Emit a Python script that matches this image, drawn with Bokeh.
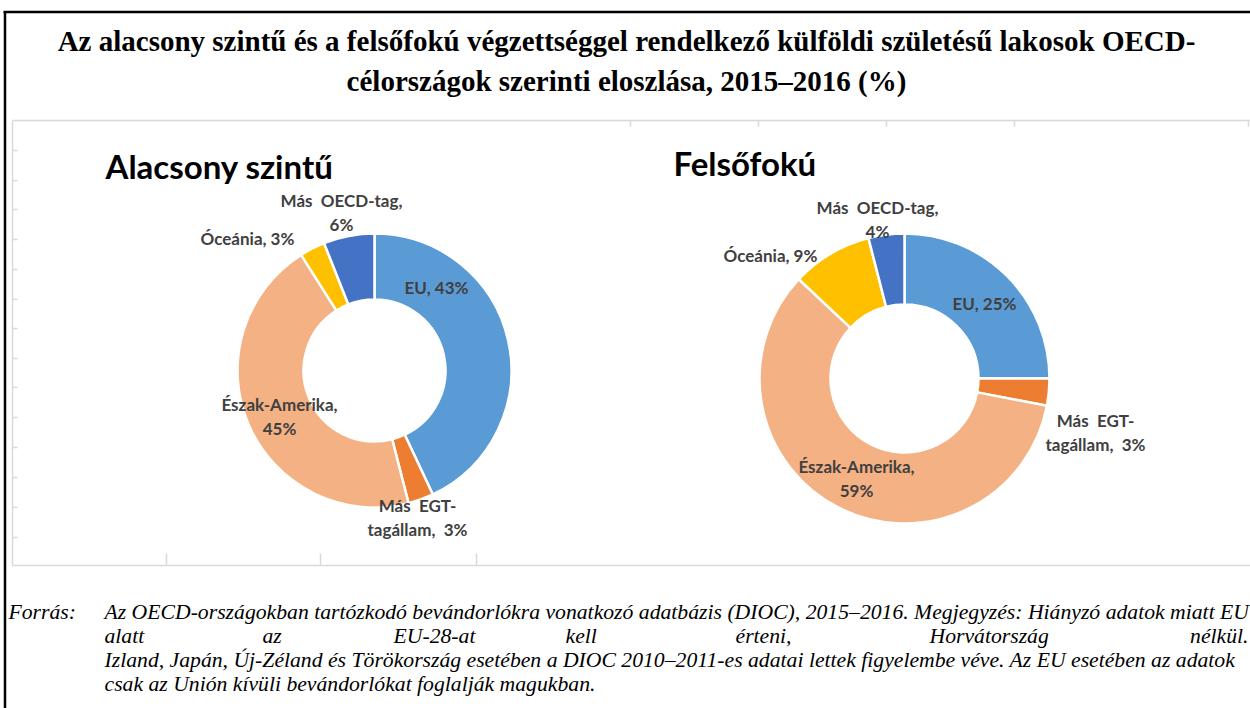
import numpy as np
from bokeh.plotting import figure
from bokeh.models import Range1d
from bokeh.core.properties import value
from bokeh.embed import file_html
from bokeh.resources import INLINE

W, H = 1250, 708

# ---------------- data ----------------
categories = ["EU", "Más EGT-tagállam", "Észak-Amerika", "Óceánia", "Más OECD-tag"]
low_values = [43, 3, 45, 3, 6]      # Alacsony szintű
high_values = [25, 3, 59, 9, 4]     # Felsőfokú
colors = ["#5B9BD5", "#ED7D31", "#F4B183", "#FFC000", "#4472C4"]
panel_titles = ["Alacsony szintű", "Felsőfokú"]
label_templates = [
    ["EU, {v}%"],
    ["Más\u00a0 EGT-", "tagállam,\u00a0 {v}%"],
    ["Észak-Amerika,", "{v}%"],
    ["Óceánia, {v}%"],
    ["Más\u00a0 OECD-tag,", "{v}%"],
]
title_lines = [
    "Az alacsony szintű és a felsőfokú végzettséggel rendelkező külföldi születésű lakosok OECD-",
    "célországok szerinti eloszlása, 2015–2016 (%)",
]
source_label = "Forrás:"
source_lines = [
    "Az OECD-országokban tartózkodó bevándorlókra vonatkozó adatbázis (DIOC), 2015–2016. Megjegyzés: Hiányzó adatok miatt EU",
    ["alatt", "az", "EU-28-at", "kell", "érteni,", "Horvátország", "nélkül."],
    "Izland, Japán, Új-Zéland és Törökország esetében a DIOC 2010–2011-es adatai lettek figyelembe véve. Az EU esetében az adatok",
    "csak az Unión kívüli bevándorlókat foglalják magukban.",
]

# ---------------- layout (pixels, y from top) ----------------
def Y(y):
    return H - y

p = figure(width=W, height=H, x_range=Range1d(0, W), y_range=Range1d(0, H),
           output_backend="svg", toolbar_location=None,
           x_axis_type=None, y_axis_type=None, min_border=0)
p.grid.visible = False
p.outline_line_color = None
p.background_fill_color = "white"
p.border_fill_color = "white"

# outer black frame (document box)
p.segment(x0=[3], y0=[Y(11.5)], x1=[W], y1=[Y(11.5)], line_color="black", line_width=2.5)
p.segment(x0=[4.5], y0=[Y(11)], x1=[4.5], y1=[Y(H)], line_color="black", line_width=2.5)

# light grey chart frame with tick marks
grey = "#D9D9D9"
p.segment(x0=[12, 12, 12], y0=[Y(120), Y(120), Y(565)],
          x1=[W, 12, W], y1=[Y(120), Y(565), Y(565)], line_color=grey, line_width=1.5)
left_ticks = [150, 180, 209, 239, 269, 299, 328, 358, 387, 417, 447, 477, 507, 537]
p.segment(x0=[12] * len(left_ticks), y0=[Y(t) for t in left_ticks],
          x1=[17] * len(left_ticks), y1=[Y(t) for t in left_ticks], line_color=grey, line_width=1.5)
bottom_ticks = [166, 320, 476]
p.segment(x0=bottom_ticks, y0=[Y(565)] * 3, x1=bottom_ticks, y1=[Y(553)] * 3,
          line_color=grey, line_width=1.5)
top_ticks = [630, 758, 886, 1014, 1248]
p.segment(x0=top_ticks, y0=[Y(120)] * len(top_ticks), x1=top_ticks, y1=[Y(126)] * len(top_ticks),
          line_color=grey, line_width=1.5)

# title
title_font = value("Liberation Serif")
for i, line in enumerate(title_lines):
    p.text(x=[626], y=[Y(40 + i * 40)], text=[line], text_font=title_font,
           text_font_style="bold", text_font_size="29px", text_color="black",
           text_align="center", text_baseline="alphabetic")

# donuts
panels = [
    dict(values=low_values, cx=374, cy=370, R=137, r=71, title_xy=(105, 165),
         label_xy=[(436, 287), (417, 505), (279, 404), (247, 238), (341, 200)]),
    dict(values=high_values, cx=904, cy=378, R=145, r=74, title_xy=(673, 162),
         label_xy=[(984, 303), (1095, 420), (856, 466), (770, 255), (877, 207)]),
]
lab_font = value("Lato")
for k, pan in enumerate(panels):
    vals = np.array(pan["values"], dtype=float)
    frac = vals / vals.sum()
    cum_end = np.cumsum(frac)
    cum_start = cum_end - frac
    start = np.pi / 2 - 2 * np.pi * cum_end
    end = np.pi / 2 - 2 * np.pi * cum_start
    p.annular_wedge(x=[pan["cx"]] * len(vals), y=[Y(pan["cy"])] * len(vals),
                    inner_radius=pan["r"], outer_radius=pan["R"],
                    start_angle=list(start), end_angle=list(end),
                    fill_color=colors, line_color="white", line_width=2.5)
    tx, ty = pan["title_xy"]
    p.text(x=[tx], y=[Y(ty)], text=[panel_titles[k]], text_font=lab_font,
           text_font_style="bold", text_font_size="33px", text_color="black",
           text_align="left", text_baseline="middle")
    for j, (lx, ly) in enumerate(pan["label_xy"]):
        for li, tmpl in enumerate(label_templates[j]):
            p.text(x=[lx], y=[Y(ly + li * 24)], text=[tmpl.format(v=pan["values"][j])],
                   text_font=lab_font, text_font_style="bold", text_font_size="17px",
                   text_color="#404040", text_align="center", text_baseline="middle")

# footer
foot_font = value("Liberation Serif")
foot_size = "21.7px"
foot_y = [611, 635, 659, 683]
p.text(x=[8], y=[Y(foot_y[0])], text=[source_label], text_font=foot_font,
       text_font_style="italic", text_font_size=foot_size, text_color="black",
       text_align="left", text_baseline="middle")
word_x = [104, 262, 393, 565, 735, 929, 1248]
for i, line in enumerate(source_lines):
    if isinstance(line, list):
        for j, w in enumerate(line):
            last = j == len(line) - 1
            p.text(x=[word_x[j]], y=[Y(foot_y[i])], text=[w], text_font=foot_font,
                   text_font_style="italic", text_font_size=foot_size, text_color="black",
                   text_align="right" if last else "left", text_baseline="middle")
    else:
        p.text(x=[104], y=[Y(foot_y[i])], text=[line], text_font=foot_font,
               text_font_style="italic", text_font_size=foot_size, text_color="black",
               text_align="left", text_baseline="middle")

open("out.html", "w").write(file_html(p, INLINE))
